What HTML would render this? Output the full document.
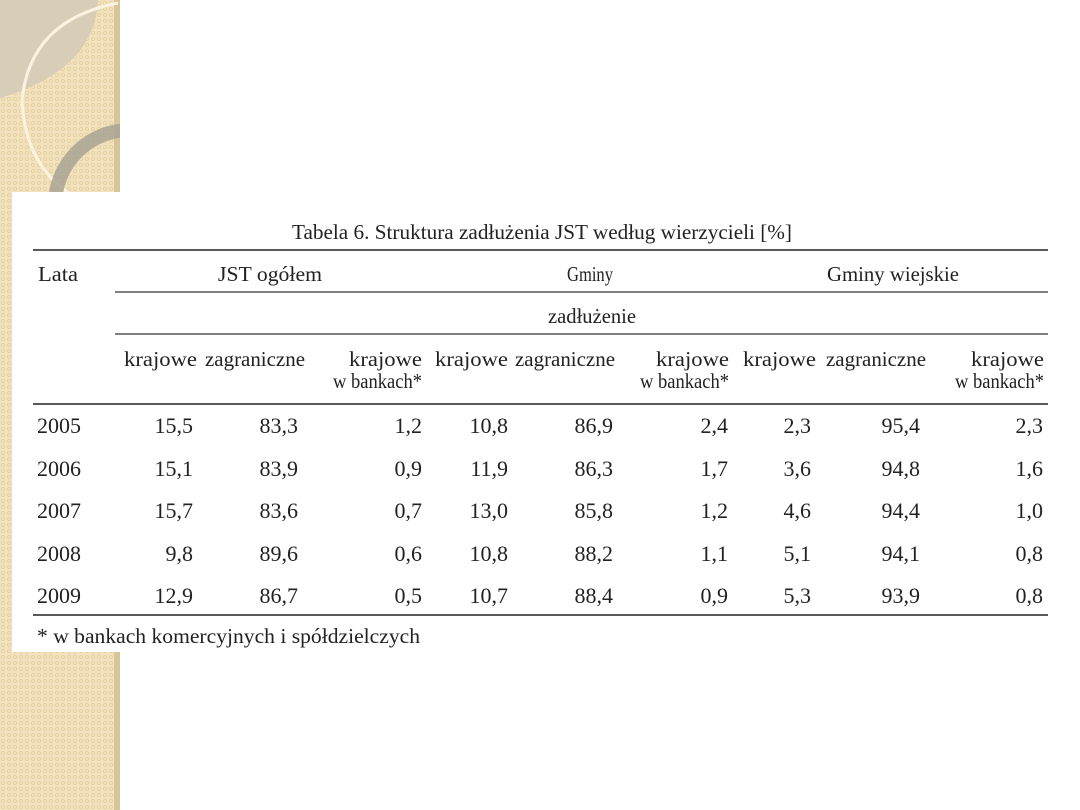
<!DOCTYPE html>
<html><head><meta charset="utf-8"><style>
html,body{margin:0;padding:0;width:1080px;height:810px;overflow:hidden;background:#fff}
</style></head><body>
<svg width="1080" height="810" viewBox="0 0 1080 810" xmlns="http://www.w3.org/2000/svg">
<defs>
<pattern id="dots" width="6" height="6" patternUnits="userSpaceOnUse">
<rect width="6" height="6" fill="#f1e2bd"/>
<circle cx="3" cy="3" r="1.6" fill="none" stroke="#e4cf9f" stroke-width="0.8"/>
</pattern>
<clipPath id="strip"><rect x="0" y="0" width="120" height="810"/></clipPath>
</defs>
<rect x="0" y="0" width="120" height="810" fill="url(#dots)"/>
<rect x="114" y="0" width="6" height="810" fill="#d8c49a"/>
<g clip-path="url(#strip)">
<path d="M0 0 L98 0 Q95 70 0 98 Z" fill="#d8cdb6"/>
<path d="M118 3 Q30 20 22 100 Q25 170 80 200" fill="none" stroke="#fbf3e0" stroke-width="3"/>
<circle cx="130" cy="205" r="75" fill="none" stroke="#a9a393" stroke-width="14" opacity="0.85"/>
</g>
<rect x="12" y="192" width="1068" height="460" fill="#fff"/>
<rect x="120" y="652" width="960" height="158" fill="#fff"/>
<g font-family="Liberation Serif, serif" font-size="21" fill="#222">
<text x="292" y="239" textLength="500" lengthAdjust="spacingAndGlyphs">Tabela 6. Struktura zadłużenia JST według wierzycieli [%]</text>
<line x1="33" y1="250" x2="1048" y2="250" stroke="#222" stroke-width="1.5"/>
<line x1="115" y1="292" x2="1048" y2="292" stroke="#333" stroke-width="1.2"/>
<line x1="115" y1="334" x2="1048" y2="334" stroke="#333" stroke-width="1.2"/>
<line x1="33" y1="404" x2="1048" y2="404" stroke="#222" stroke-width="1.5"/>
<line x1="33" y1="615" x2="1048" y2="615" stroke="#222" stroke-width="1.5"/>
<text x="38" y="281" textLength="40" lengthAdjust="spacingAndGlyphs">Lata</text>
<text x="218" y="281" textLength="104" lengthAdjust="spacingAndGlyphs">JST ogółem</text>
<text x="567" y="281" textLength="46" lengthAdjust="spacingAndGlyphs">Gminy</text>
<text x="827" y="281" textLength="132" lengthAdjust="spacingAndGlyphs">Gminy wiejskie</text>
<text x="548" y="323" textLength="88" lengthAdjust="spacingAndGlyphs">zadłużenie</text>
<g>
<text x="124" y="366" textLength="73" lengthAdjust="spacingAndGlyphs">krajowe</text>
<text x="205" y="366" textLength="100" lengthAdjust="spacingAndGlyphs">zagraniczne</text>
<text x="349" y="366" textLength="73" lengthAdjust="spacingAndGlyphs">krajowe</text>
<text x="333" y="388" textLength="89" lengthAdjust="spacingAndGlyphs">w bankach*</text>
<text x="435" y="366" textLength="73" lengthAdjust="spacingAndGlyphs">krajowe</text>
<text x="515" y="366" textLength="100" lengthAdjust="spacingAndGlyphs">zagraniczne</text>
<text x="656" y="366" textLength="73" lengthAdjust="spacingAndGlyphs">krajowe</text>
<text x="640" y="388" textLength="89" lengthAdjust="spacingAndGlyphs">w bankach*</text>
<text x="743" y="366" textLength="73" lengthAdjust="spacingAndGlyphs">krajowe</text>
<text x="826" y="366" textLength="100" lengthAdjust="spacingAndGlyphs">zagraniczne</text>
<text x="971" y="366" textLength="73" lengthAdjust="spacingAndGlyphs">krajowe</text>
<text x="955" y="388" textLength="89" lengthAdjust="spacingAndGlyphs">w bankach*</text>
</g>
<g font-size="22">
<text x="37" y="433">2005</text><text x="37" y="476">2006</text><text x="37" y="518">2007</text><text x="37" y="561">2008</text><text x="37" y="603">2009</text>
<g text-anchor="end">
<text x="193" y="433">15,5</text><text x="298" y="433">83,3</text><text x="422" y="433">1,2</text><text x="508" y="433">10,8</text><text x="613" y="433">86,9</text><text x="728" y="433">2,4</text><text x="811" y="433">2,3</text><text x="920" y="433">95,4</text><text x="1043" y="433">2,3</text>
<text x="193" y="476">15,1</text><text x="298" y="476">83,9</text><text x="422" y="476">0,9</text><text x="508" y="476">11,9</text><text x="613" y="476">86,3</text><text x="728" y="476">1,7</text><text x="811" y="476">3,6</text><text x="920" y="476">94,8</text><text x="1043" y="476">1,6</text>
<text x="193" y="518">15,7</text><text x="298" y="518">83,6</text><text x="422" y="518">0,7</text><text x="508" y="518">13,0</text><text x="613" y="518">85,8</text><text x="728" y="518">1,2</text><text x="811" y="518">4,6</text><text x="920" y="518">94,4</text><text x="1043" y="518">1,0</text>
<text x="193" y="561">9,8</text><text x="298" y="561">89,6</text><text x="422" y="561">0,6</text><text x="508" y="561">10,8</text><text x="613" y="561">88,2</text><text x="728" y="561">1,1</text><text x="811" y="561">5,1</text><text x="920" y="561">94,1</text><text x="1043" y="561">0,8</text>
<text x="193" y="603">12,9</text><text x="298" y="603">86,7</text><text x="422" y="603">0,5</text><text x="508" y="603">10,7</text><text x="613" y="603">88,4</text><text x="728" y="603">0,9</text><text x="811" y="603">5,3</text><text x="920" y="603">93,9</text><text x="1043" y="603">0,8</text>
</g>
</g>
<text x="37" y="643" textLength="383" lengthAdjust="spacingAndGlyphs">* w bankach komercyjnych i spółdzielczych</text>
</g>
</svg>
</body></html>
